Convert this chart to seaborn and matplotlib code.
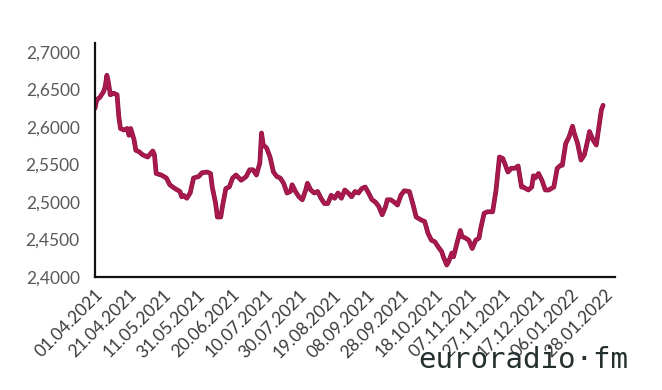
import matplotlib
matplotlib.use("Agg")
import matplotlib.pyplot as plt
import matplotlib.patheffects as pe
import seaborn as sns
import pandas as pd
from matplotlib.ticker import FuncFormatter

# Day index (days since 01.04.2021) and exchange rate
days = [0, 1, 3, 5, 6, 7, 8, 9, 11, 13, 14, 15, 17, 19, 20, 21, 23, 24, 26, 28,
        31, 34, 35, 36, 39, 42, 44, 47, 50, 51, 52, 54, 56, 58, 61, 63, 66, 68, 69, 71,
        72, 74, 75, 77, 79, 81, 83, 86, 89, 91, 93, 95, 97, 98, 99, 101, 103, 105, 107, 109,
        111, 113, 115, 116, 118, 120, 122, 124, 125, 127, 129, 131, 133, 135, 137, 139, 141, 143, 145, 147,
        149, 151, 153, 155, 157, 159, 161, 163, 165, 167, 169, 171, 172, 174, 176, 178, 180, 182, 185, 187,
        189, 192, 194, 196, 198, 200, 202, 204, 205, 207, 208, 210, 211, 213, 215, 216, 218, 220, 222, 224,
        226, 227, 229, 231, 234, 236, 237, 238, 240, 243, 245, 247, 249, 251, 252, 255, 257, 258, 259, 261,
        263, 265, 267, 270, 272, 274, 275, 277, 279, 281, 282, 284, 286, 288, 290, 291, 293, 295, 297, 298, 299]
rates = [2.625, 2.636, 2.640, 2.647, 2.654, 2.669, 2.658, 2.643, 2.645, 2.643, 2.614, 2.598, 2.596, 2.598, 2.589, 2.598, 2.583, 2.569, 2.567, 2.563,
         2.560, 2.568, 2.563, 2.538, 2.536, 2.532, 2.523, 2.518, 2.514, 2.507, 2.509, 2.505, 2.512, 2.532, 2.534, 2.539, 2.540, 2.538, 2.520, 2.498,
         2.480, 2.480, 2.494, 2.518, 2.520, 2.532, 2.536, 2.529, 2.534, 2.543, 2.543, 2.536, 2.552, 2.592, 2.576, 2.572, 2.560, 2.540, 2.534, 2.532,
         2.525, 2.512, 2.514, 2.523, 2.514, 2.507, 2.503, 2.516, 2.525, 2.516, 2.512, 2.514, 2.505, 2.498, 2.498, 2.509, 2.505, 2.512, 2.505, 2.516,
         2.512, 2.507, 2.514, 2.512, 2.518, 2.520, 2.512, 2.503, 2.500, 2.494, 2.483, 2.494, 2.503, 2.503, 2.500, 2.496, 2.509, 2.515, 2.514, 2.498,
         2.480, 2.476, 2.474, 2.458, 2.449, 2.447, 2.440, 2.434, 2.427, 2.416, 2.420, 2.432, 2.427, 2.445, 2.462, 2.454, 2.452, 2.449, 2.438, 2.449,
         2.452, 2.465, 2.485, 2.487, 2.487, 2.516, 2.538, 2.560, 2.558, 2.540, 2.545, 2.545, 2.548, 2.520, 2.520, 2.516, 2.520, 2.535, 2.532, 2.538,
         2.529, 2.516, 2.516, 2.520, 2.545, 2.549, 2.549, 2.578, 2.587, 2.601, 2.592, 2.578, 2.556, 2.563, 2.583, 2.594, 2.583, 2.576, 2.607, 2.623, 2.629]

tick_pos = [0, 20, 40, 60, 80, 100, 120, 140, 160, 180, 200, 220, 240, 260, 280, 300]
tick_labels = ["01.04.2021", "21.04.2021", "11.05.2021", "31.05.2021", "20.06.2021",
               "10.07.2021", "30.07.2021", "19.08.2021", "08.09.2021", "28.09.2021",
               "18.10.2021", "07.11.2021", "27.11.2021", "17.12.2021", "06.01.2022",
               "28.01.2022"]
y_ticks = [2.40, 2.45, 2.50, 2.55, 2.60, 2.65, 2.70]

sns.set_theme(style="white")
plt.rcParams['font.family'] = ['Lato', 'DejaVu Sans']

df = pd.DataFrame({"day": days, "rate": rates})

fig = plt.figure(figsize=(6.62, 3.90), dpi=100)
ax = fig.add_axes([0.1435, 0.2897, 0.7855, 0.6])

sns.lineplot(data=df, x="day", y="rate", ax=ax, color="#a8194d", linewidth=2.6,
             path_effects=[pe.Stroke(linewidth=3.4, foreground="#8a1240"), pe.Normal()])

ax.set_xlim(0, 306)
ax.set_ylim(2.4, 2.712)
ax.set_xticks(tick_pos)
ax.set_xticklabels(tick_labels, rotation=45, ha="right", rotation_mode="anchor",
                   fontsize=12.5, color="#3a3a3a")
ax.set_yticks(y_ticks)
ax.yaxis.set_major_formatter(FuncFormatter(lambda v, p: f"{v:.4f}".replace(".", ",")))
for t in ax.get_yticklabels():
    t.set_fontsize(12.5)
    t.set_color("#595959")
ax.tick_params(axis="both", length=0)
ax.tick_params(axis="y", pad=11)
ax.tick_params(axis="x", pad=7)
ax.set_xlabel("")
ax.set_ylabel("")
for s in ["top", "right"]:
    ax.spines[s].set_visible(False)
for s in ["left", "bottom"]:
    ax.spines[s].set_color("#111111")
    ax.spines[s].set_linewidth(1.6)
ax.grid(False)

fig.text(0.632, 0.04, "euroradio·fm", fontsize=21, color="#24302f",
         family=["DejaVu Sans Mono"], ha="left", va="bottom")

fig.savefig("out.png", dpi=100, facecolor="white")
